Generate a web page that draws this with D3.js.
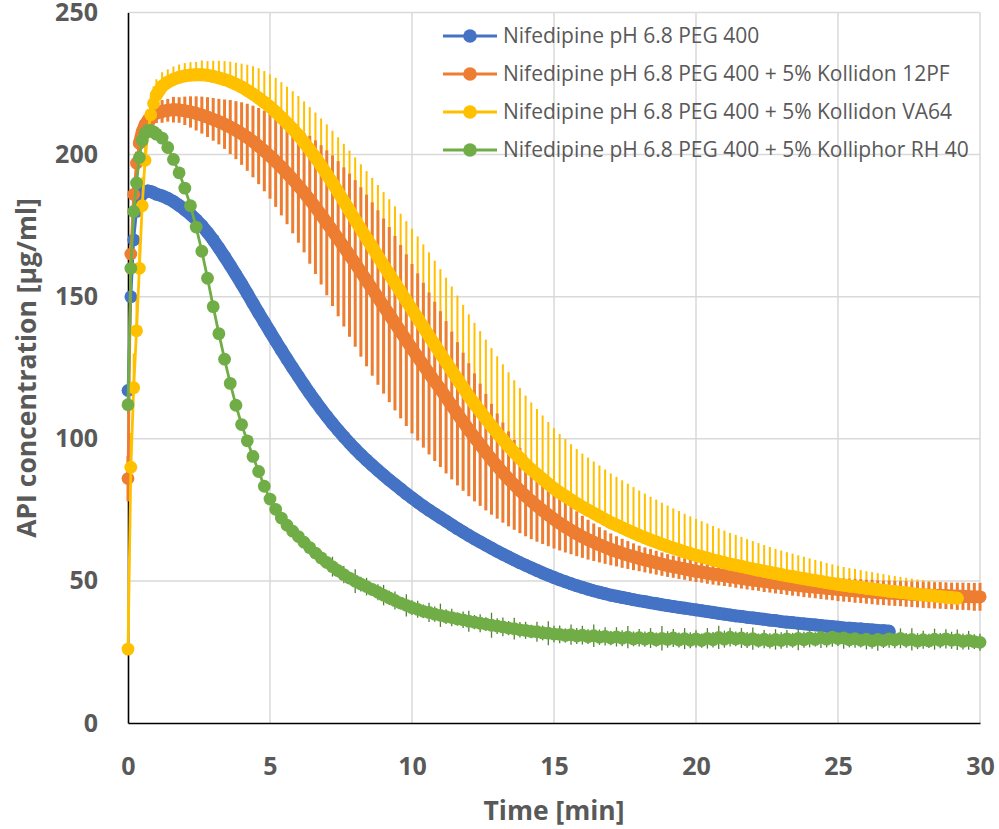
<!DOCTYPE html>
<html>
<head>
<meta charset="utf-8">
<script src="https://cdn.jsdelivr.net/npm/d3@7"></script>
<style>
  body { margin: 0; background: #fff; }
  svg { display: block; font-family: "Open Sans", sans-serif; }
</style>
</head>
<body>
<div id="chart"></div>
<script>
// sampling times [min]: 0.1 min steps for the first minute, then 0.2 min
const times = [
  0, 0.1, 0.2, 0.3, 0.4, 0.5, 0.6, 0.7, 0.8, 0.9, 1.0,
  1.2, 1.4, 1.6, 1.8, 2.0, 2.2, 2.4, 2.6, 2.8, 3.0,
  3.2, 3.4, 3.6, 3.8, 4.0, 4.2, 4.4, 4.6, 4.8, 5.0,
  5.2, 5.4, 5.6, 5.8, 6.0, 6.2, 6.4, 6.6, 6.8, 7.0,
  7.2, 7.4, 7.6, 7.8, 8.0, 8.2, 8.4, 8.6, 8.8, 9.0,
  9.2, 9.4, 9.6, 9.8, 10.0, 10.2, 10.4, 10.6, 10.8, 11.0,
  11.2, 11.4, 11.6, 11.8, 12.0, 12.2, 12.4, 12.6, 12.8, 13.0,
  13.2, 13.4, 13.6, 13.8, 14.0, 14.2, 14.4, 14.6, 14.8, 15.0,
  15.2, 15.4, 15.6, 15.8, 16.0, 16.2, 16.4, 16.6, 16.8, 17.0,
  17.2, 17.4, 17.6, 17.8, 18.0, 18.2, 18.4, 18.6, 18.8, 19.0,
  19.2, 19.4, 19.6, 19.8, 20.0, 20.2, 20.4, 20.6, 20.8, 21.0,
  21.2, 21.4, 21.6, 21.8, 22.0, 22.2, 22.4, 22.6, 22.8, 23.0,
  23.2, 23.4, 23.6, 23.8, 24.0, 24.2, 24.4, 24.6, 24.8, 25.0,
  25.2, 25.4, 25.6, 25.8, 26.0, 26.2, 26.4, 26.6, 26.8, 27.0,
  27.2, 27.4, 27.6, 27.8, 28.0, 28.2, 28.4, 28.6, 28.8, 29.0,
  29.2, 29.4, 29.6, 29.8, 30.0
];

// Nifedipine pH 6.8 PEG 400
const peg400 = [
  117, 150, 170, 180, 184, 186, 187, 187.2, 187, 186.6, 186.1,
  185.5, 184.6, 183.5, 182.1, 180.6, 179, 177.1, 175, 172.6, 170,
  167.1, 164.1, 161, 157.8, 154.5, 151.1, 147.7, 144.3, 141, 137.7,
  134.4, 131.2, 128, 124.9, 121.9, 118.9, 116, 113.2, 110.5, 107.9,
  105.4, 103, 100.7, 98.5, 96.4, 94.4, 92.5, 90.7, 88.9, 87.2,
  85.5, 83.9, 82.3, 80.7, 79.2, 77.7, 76.3, 74.9, 73.6, 72.3,
  71, 69.7, 68.4, 67.2, 66, 64.8, 63.7, 62.6, 61.5, 60.4,
  59.4, 58.4, 57.4, 56.4, 55.5, 54.6, 53.7, 52.8, 52, 51.2,
  50.4, 49.7, 49, 48.3, 47.7, 47.1, 46.5, 46, 45.5, 45,
  44.6, 44.2, 43.8, 43.4, 43, 42.7, 42.3, 42, 41.6, 41.3,
  41, 40.7, 40.4, 40.1, 39.8, 39.5, 39.2, 38.9, 38.6, 38.3,
  38, 37.7, 37.5, 37.2, 37, 36.7, 36.5, 36.2, 36, 35.7,
  35.5, 35.3, 35.1, 34.9, 34.7, 34.5, 34.3, 34.1, 33.9, 33.7,
  33.5, 33.4, 33.2, 33.1, 32.9, 32.8, 32.6, 32.5, 32.3
];

// + 5% Kollidon 12PF
const kollidon12 = [
  86, 165, 186, 197, 204, 208, 210.5, 212, 213, 214, 214.6,
  215.2, 215.6, 215.8, 215.7, 215.4, 215, 214.5, 213.9, 213.2, 212.4,
  211.6, 210.7, 209.7, 208.6, 207.4, 206.1, 204.6, 203, 201.3, 199.5,
  197.6, 195.6, 193.5, 191.3, 189, 186.6, 184.1, 181.5, 178.8, 176,
  173.2, 170.4, 167.5, 164.6, 161.7, 158.7, 155.7, 152.7, 149.7, 146.7,
  143.7, 140.7, 137.7, 134.7, 131.7, 128.8, 125.9, 123, 120.2, 117.5,
  114.6, 111.7, 108.8, 106, 103.2, 100.5, 97.9, 95.3, 92.8, 90.4,
  88.1, 85.9, 83.8, 81.8, 79.9, 78.1, 76.4, 74.8, 73.2, 71.7,
  70.3, 69, 67.8, 66.6, 65.5, 64.5, 63.6, 62.7, 61.9, 61.1,
  60.4, 59.7, 59.1, 58.5, 57.9, 57.4, 56.9, 56.4, 55.9, 55.4,
  55, 54.6, 54.2, 53.8, 53.4, 53.1, 52.7, 52.4, 52.1, 51.8,
  51.5, 51.2, 50.9, 50.6, 50.3, 50.1, 49.8, 49.6, 49.3, 49.1,
  48.9, 48.6, 48.4, 48.2, 48, 47.8, 47.6, 47.4, 47.2, 47,
  46.8, 46.7, 46.5, 46.4, 46.2, 46.1, 45.9, 45.8, 45.7, 45.6,
  45.5, 45.4, 45.3, 45.2, 45.1, 45, 44.9, 44.9, 44.8, 44.7,
  44.6, 44.6, 44.5, 44.4, 44.4
];
const kollidon12Err = [
  8, 6, 5, 4, 4, 3.5, 3.5, 3.5, 3.5, 3.5, 3.5,
  4, 4, 4.5, 4.5, 5, 5.5, 6, 6.5, 7, 7.5,
  8, 8.7, 9.5, 10.2, 11, 11.8, 12.6, 13.4, 14.2, 15,
  16, 17, 18, 19, 20, 21, 22.5, 23.5, 24.5, 25.5,
  26.5, 27.3, 28, 28.7, 29.3, 29.8, 30.2, 30.5, 30.7, 30.8,
  30.8, 30.7, 30.5, 30.2, 29.8, 29.4, 29, 28.5, 28, 27.4,
  26.8, 26, 25.2, 24.3, 23.4, 22.5, 21.5, 20.5, 19.5, 18.5,
  17.6, 16.7, 15.8, 15, 14.2, 13.4, 12.6, 11.8, 11, 10.3,
  9.6, 9, 8.4, 7.9, 7.4, 7, 6.6, 6.2, 5.9, 5.6,
  5.3, 5.1, 4.9, 4.7, 4.5, 4.4, 4.3, 4.2, 4.1, 4,
  3.9, 3.9, 3.8, 3.8, 3.8, 3.7, 3.7, 3.7, 3.7, 3.6,
  3.6, 3.6, 3.6, 3.6, 3.6, 3.6, 3.7, 3.7, 3.7, 3.7,
  3.8, 3.8, 3.8, 3.9, 3.9, 3.9, 4, 4, 4, 4.1,
  4.1, 4.1, 4.2, 4.2, 4.2, 4.3, 4.3, 4.3, 4.4, 4.4,
  4.4, 4.5, 4.5, 4.5, 4.6, 4.6, 4.6, 4.7, 4.7, 4.7,
  4.8, 4.8, 4.8, 4.9, 4.9
];

// + 5% Kollidon VA64
const kollidonVA64 = [
  26, 90, 118, 138, 160, 182, 198, 208, 214, 218, 221,
  224, 225.5, 226.5, 227.2, 227.7, 228, 228.1, 228.1, 227.9, 227.5,
  227, 226.4, 225.7, 224.8, 223.8, 222.6, 221.3, 219.9, 218.4, 216.8,
  215, 213.1, 211.1, 209, 206.8, 204.3, 201.7, 199, 196.1, 193.1,
  190, 186.8, 183.6, 180.3, 177, 173.8, 170.6, 167.4, 164.2, 161,
  157.9, 154.8, 151.7, 148.6, 145.5, 142.4, 139.3, 136.2, 133.1, 130,
  127, 124, 121, 118, 115, 112.3, 109.7, 107.1, 104.5, 102,
  99.7, 97.4, 95.2, 93.1, 91, 89.2, 87.5, 85.8, 84.1, 82.5,
  81.1, 79.8, 78.5, 77.2, 76, 74.9, 73.8, 72.7, 71.6, 70.5,
  69.6, 68.7, 67.8, 66.9, 66, 65.2, 64.4, 63.7, 62.9, 62.2,
  61.5, 60.9, 60.2, 59.6, 59, 58.5, 58, 57.4, 56.9, 56.4,
  55.9, 55.5, 55.1, 54.6, 54.2, 53.8, 53.4, 53, 52.6, 52.2,
  51.8, 51.5, 51.1, 50.8, 50.4, 50.1, 49.8, 49.4, 49.1, 48.8,
  48.5, 48.2, 48, 47.7, 47.4, 47.2, 46.9, 46.7, 46.4, 46.2,
  46, 45.8, 45.5, 45.3, 45.1, 44.9, 44.7, 44.5, 44.3, 44.1,
  43.9
];
// upper error only
const kollidonVA64Err = [
  14, 12, 12, 12, 11, 10, 9, 8, 7, 6, 5.5,
  5, 4.5, 4.5, 4.5, 4.5, 4.5, 4.5, 5, 5, 5.5,
  6, 6.5, 7, 7.5, 8.2, 9, 9.8, 10.5, 11, 11.5,
  12, 12.4, 12.8, 13.3, 13.8, 14.4, 15, 15.8, 16.6, 17.5,
  18.4, 19.3, 20.2, 21.1, 22, 22.8, 23.6, 24.4, 25.1, 25.8,
  26.4, 27, 27.5, 28, 28.4, 28.8, 29.1, 29.4, 29.6, 29.7,
  29.7, 29.6, 29.4, 29.1, 28.8, 28.5, 28.2, 27.8, 27.4, 27,
  26.5, 26, 25.4, 24.8, 24.2, 23.6, 23, 22.4, 21.8, 21.2,
  20.6, 20.1, 19.6, 19.2, 18.8, 18.5, 18.2, 17.9, 17.6, 17.3,
  17, 16.7, 16.4, 16.1, 15.8, 15.5, 15.2, 14.9, 14.6, 14.3,
  14, 13.7, 13.4, 13.1, 12.8, 12.5, 12.2, 11.9, 11.6, 11.3,
  11, 10.7, 10.4, 10.1, 9.8, 9.5, 9.2, 8.9, 8.7, 8.5,
  8.3, 8.1, 7.9, 7.7, 7.5, 7.3, 7.1, 6.9, 6.7, 6.5,
  6.4, 6.3, 6.2, 6.1, 6, 5.9, 5.8, 5.7, 5.6, 5.5,
  5.4, 5.3, 5.3, 5.2, 5.2, 5.1, 5.1, 5, 5, 5,
  5
];

// + 5% Kolliphor RH 40
const kolliphor = [
  112, 160, 180, 190, 199, 205, 207.5, 208.5, 208.5, 208, 207.2,
  205.8, 202.5, 198.3, 193.6, 188.2, 182, 174.5, 166, 156.5, 146.5,
  137, 128, 119.5, 111.8, 105, 99.3, 93.8, 88.5, 83.3, 78.8,
  75.2, 72.1, 69.6, 67.5, 65.6, 63.6, 61.7, 59.8, 58.1, 56.5,
  55, 53.6, 52.2, 51, 49.9, 48.9, 48, 47, 46, 45,
  44, 43.1, 42.2, 41.4, 40.6, 40, 39.3, 38.9, 38.3, 37.9,
  37.4, 37.1, 36.6, 36.3, 35.8, 35.5, 35.1, 34.8, 34.4, 34.1,
  33.8, 33.4, 33.2, 32.8, 32.6, 32.2, 32.1, 31.7, 31.6, 31.3,
  31.2, 30.8, 31.1, 30.6, 30.9, 30.4, 30.7, 30.2, 30.5, 29.9,
  30.3, 29.8, 30.2, 29.6, 30, 29.5, 29.9, 29.3, 29.8, 29.4,
  29.9, 29.2, 29.7, 29.1, 29.6, 29, 29.8, 29.3, 30.1, 29.5,
  30.2, 29.6, 29.9, 29.2, 29.7, 29, 29.5, 28.9, 29.4, 29,
  29.6, 29.1, 29.8, 29.3, 29.9, 29.4, 30.1, 29.5, 30.2, 29.7,
  29.9, 29.3, 29.7, 29.1, 29.5, 28.9, 29.4, 29, 29.6, 29.2,
  29.8, 29.1, 29.4, 28.8, 29.3, 28.9, 29.5, 29, 29.6, 29.1,
  29.3, 28.7, 29.1, 28.6, 28.4
];
const kolliphorErr = [
  3, 2, 2, 1.5, 1.5, 1.5, 1.5, 1.5, 1.5, 1.5, 1.5,
  1.5, 1.5, 1.5, 1.5, 1.5, 1.5, 1.5, 1.5, 1.5, 1.5,
  1.5, 1.5, 1.5, 1.5, 1.5, 1.5, 1.5, 1.5, 1.5, 1.5,
  2, 1.8, 2.2, 2, 2.5, 2.1, 2.4, 2, 2.6, 2.2,
  3.5, 2.4, 3, 2.2, 4.2, 2.6, 3.1, 2.3, 2.8, 3.6,
  2.5, 3.2, 2.2, 3.9, 2.6, 3, 2.4, 3.4, 2.7, 4.1,
  2.6, 3.1, 2.3, 2.9, 3.7, 2.5, 3.2, 2.4, 4.4, 2.8,
  3.3, 2.5, 3.8, 2.7, 3, 2.4, 3.5, 2.6, 4.2, 2.9,
  3.1, 2.5, 3.6, 2.8, 3.3, 2.6, 4, 2.7, 3.2, 2.5,
  3.4, 2.8, 3.9, 2.6, 3.1, 2.7, 3.5, 2.5, 4.3, 2.9,
  3.2, 2.6, 3.7, 2.8, 3, 2.5, 3.6, 2.7, 4.1, 3,
  3.3, 2.6, 3.5, 2.8, 3.9, 2.5, 3.2, 2.7, 3.6, 2.9,
  3.1, 2.6, 4.2, 2.8, 3.3, 2.5, 3.7, 2.9, 3.4, 2.6,
  3.8, 2.7, 3.2, 2.5, 3.6, 2.8, 4, 2.6, 3.1, 2.9,
  3.5, 2.6, 3.9, 2.8, 3.2, 2.5, 3.7, 2.7, 3.4, 3,
  3.6, 2.8, 3.3, 2.6, 3
];

const seriesNames = [
  "Nifedipine pH 6.8 PEG 400",
  "Nifedipine pH 6.8 PEG 400 + 5% Kollidon 12PF",
  "Nifedipine pH 6.8 PEG 400 + 5% Kollidon VA64",
  "Nifedipine pH 6.8 PEG 400 + 5% Kolliphor RH 40"
];
const seriesColors = ["#4472C4", "#ED7D31", "#FFC000", "#70AD47"];
const xTicks = [0, 5, 10, 15, 20, 25, 30];
const yTicks = [0, 50, 100, 150, 200, 250];

// build point lists for each series
const toPoints = (vals, errs, plusOnly) => vals.map((v, i) => ({
    t: times[i], v: v,
    lo: errs && !plusOnly ? v - errs[i] : v,
    hi: errs ? v + errs[i] : v
}));
const series = [
  { name: seriesNames[0], color: seriesColors[0], pts: toPoints(peg400), bandFrom: 0.5 },
  { name: seriesNames[1], color: seriesColors[1], pts: toPoints(kollidon12, kollidon12Err), bandFrom: 0.4 },
  { name: seriesNames[2], color: seriesColors[2], pts: toPoints(kollidonVA64, kollidonVA64Err, true), bandFrom: 1.0 },
  { name: seriesNames[3], color: seriesColors[3], pts: toPoints(kolliphor, kolliphorErr) }
];

const width = 999, height = 829;
const markerR = 6.4;
const x = d3.scaleLinear().domain([0, 30]).range([128, 980]);
const y = d3.scaleLinear().domain([0, 250]).range([723, 12.5]);

const svg = d3.select("#chart").append("svg")
    .attr("width", width)
    .attr("height", height);

// gridlines
svg.append("g").selectAll("line")
    .data(yTicks.filter(d => d > 0))
    .enter().append("line")
    .attr("x1", x(0)).attr("x2", x(30))
    .attr("y1", d => y(d)).attr("y2", d => y(d))
    .attr("stroke", "#d9d9d9").attr("stroke-width", 1.5);
svg.append("g").selectAll("line")
    .data(xTicks.filter(d => d > 0))
    .enter().append("line")
    .attr("x1", d => x(d)).attr("x2", d => x(d))
    .attr("y1", y(0)).attr("y2", y(250))
    .attr("stroke", "#d9d9d9").attr("stroke-width", 1.5);

// axes
const styleAxis = g => {
    g.select(".domain").attr("stroke", "#000").attr("stroke-width", 1.6);
    g.selectAll("text")
        .attr("fill", "#595959")
        .style("font-size", "25px")
        .style("font-weight", "bold")
        .style("font-family", '"Open Sans", sans-serif');
};
svg.append("g")
    .attr("transform", `translate(0,${y(0)})`)
    .call(d3.axisBottom(x).tickValues(xTicks).tickSize(0).tickPadding(34))
    .call(styleAxis);
svg.append("g")
    .attr("transform", `translate(${x(0)},0)`)
    .call(d3.axisLeft(y).tickValues(yTicks).tickSize(0).tickPadding(30))
    .call(styleAxis);

// error bars, drawn below all lines: VA64 first, then 12PF on top, then RH 40
const drawBars = (s, w, color) => {
    svg.append("g").selectAll("line")
        .data(s.pts)
        .enter().append("line")
        .attr("x1", d => x(d.t)).attr("x2", d => x(d.t))
        .attr("y1", d => y(d.lo)).attr("y2", d => y(d.hi))
        .attr("stroke", color)
        .attr("stroke-width", w);
};
drawBars(series[2], 2, series[2].color);
drawBars(series[1], 3, series[1].color);
drawBars(series[3], 1.3, "#548235");

// lines with markers
const line = d3.line().x(d => x(d.t)).y(d => y(d.v));
series.forEach(s => {
    const g = svg.append("g");
    if (s.bandFrom !== undefined) {
        // dense markers merge into a solid band
        g.append("path")
            .datum(s.pts.filter(d => d.t >= s.bandFrom))
            .attr("d", line)
            .attr("fill", "none")
            .attr("stroke", s.color)
            .attr("stroke-width", markerR * 2)
            .attr("stroke-linejoin", "round")
            .attr("stroke-linecap", "round");
    }
    g.append("path")
        .datum(s.pts)
        .attr("d", line)
        .attr("fill", "none")
        .attr("stroke", s.color)
        .attr("stroke-width", 2.8)
        .attr("stroke-linejoin", "round");
    g.selectAll("circle")
        .data(s.pts)
        .enter().append("circle")
        .attr("cx", d => x(d.t))
        .attr("cy", d => y(d.v))
        .attr("r", markerR)
        .attr("fill", s.color);
});

// axis titles
svg.append("text")
    .attr("x", 554).attr("y", 820)
    .attr("text-anchor", "middle")
    .attr("fill", "#595959")
    .style("font-size", "26.5px").style("font-weight", "bold")
    .text("Time [min]");
svg.append("text")
    .attr("transform", "translate(36,368) rotate(-90)")
    .attr("text-anchor", "middle")
    .attr("fill", "#595959")
    .style("font-size", "26.5px").style("font-weight", "bold")
    .text("API concentration [µg/ml]");

// legend
const legend = svg.append("g").selectAll("g")
    .data(series)
    .enter().append("g")
    .attr("transform", (d, i) => `translate(443,${36 + i * 38})`);
legend.append("line")
    .attr("x1", 0).attr("x2", 54)
    .attr("stroke", d => d.color).attr("stroke-width", 2.8);
legend.append("circle")
    .attr("cx", 27).attr("r", 6.8)
    .attr("fill", d => d.color);
legend.append("text")
    .attr("x", 60).attr("dy", "0.35em")
    .attr("fill", "#595959")
    .style("font-size", "21px")
    .text(d => d.name);
</script>
</body>
</html>
